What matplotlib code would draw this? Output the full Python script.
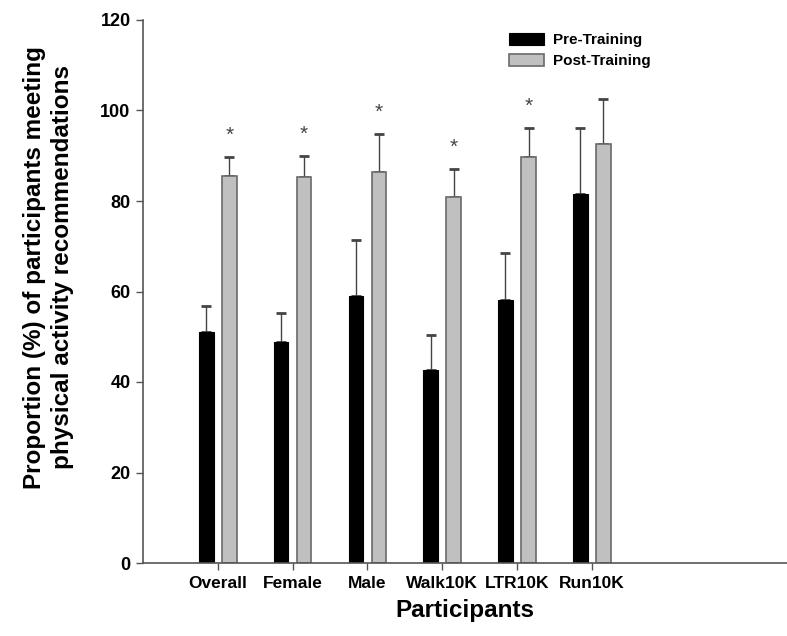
import numpy as np
import matplotlib
matplotlib.use("Agg")
import matplotlib.pyplot as plt

plt.rcParams["font.family"] = ["Liberation Sans", "DejaVu Sans"]
plt.rcParams["font.weight"] = "bold"

# ─────────────────────────────────────────────
# DATA
# ─────────────────────────────────────────────

groups = ["Overall", "Female", "Male", "Walk10K", "LTR10K", "Run10K"]
pre_training = [51.1, 48.9, 59.0, 42.7, 58.1, 81.5]
pre_err = [5.7, 6.4, 12.4, 7.7, 10.5, 14.7]
post_training = [85.5, 85.2, 86.3, 80.8, 89.7, 92.5]
post_err = [4.2, 4.7, 8.4, 6.2, 6.5, 10.0]
significant = [True, True, True, True, True, False]
y_ticks = [0, 20, 40, 60, 80, 100, 120]

# ─────────────────────────────────────────────
# PLOT
# ─────────────────────────────────────────────

fig = plt.figure(figsize=(7.87, 6.36), dpi=100)
ax = fig.add_axes([143 / 787, 1 - 563 / 636, 1 - 143 / 787, 543 / 636])

x = np.arange(len(groups))
offset = 0.154
width = 0.194
spine_col = "#555555"

ax.bar(x - offset, pre_training, width, color="black", edgecolor="black",
       linewidth=0.8, label="Pre-Training", zorder=2)
ax.bar(x + offset, post_training, width, color="#c0c0c0", edgecolor="#6a6a6a",
       linewidth=1.2, label="Post-Training", zorder=2)

err_kw = dict(fmt="none", ecolor="#444444", elinewidth=1.0, capsize=3.5,
              capthick=2.0, zorder=1)
ax.errorbar(x - offset, pre_training, yerr=[np.zeros(len(x)), pre_err], **err_kw)
ax.errorbar(x + offset, post_training, yerr=[np.zeros(len(x)), post_err], **err_kw)

# significance markers above post-training bars
for i, sig in enumerate(significant):
    if sig:
        ax.text(x[i] + offset, post_training[i] + post_err[i] + 4.8, "*",
                ha="center", va="center", fontsize=15, color="#444444",
                fontweight="normal")

ax.set_xlim(-1.0, 7.61)
ax.set_ylim(0, 120)
ax.set_yticks(y_ticks)
ax.set_xticks(x)
ax.set_xticklabels(groups, fontsize=12.5, fontweight="bold")
ax.tick_params(axis="y", labelsize=13, direction="out", length=5,
               width=1, color=spine_col, pad=4)
ax.tick_params(axis="x", direction="out", length=5, width=1,
               color=spine_col, pad=4)
for lab in ax.get_yticklabels():
    lab.set_fontweight("bold")

for side in ["top", "right"]:
    ax.spines[side].set_visible(False)
for side in ["left", "bottom"]:
    ax.spines[side].set_color(spine_col)
    ax.spines[side].set_linewidth(1.2)

ax.set_xlabel("Participants", fontsize=17.5, fontweight="bold", labelpad=6)
fig.text(0.062, 0.58,
         "Proportion (%) of participants meeting\nphysical activity recommendations",
         rotation=90, ha="center", va="center", fontsize=17.5,
         fontweight="bold", linespacing=1.3)

ax.legend(loc="upper left", bbox_to_anchor=(0.557, 0.99), frameon=False,
          fontsize=11, borderpad=0, handlelength=2.3, handleheight=0.8,
          labelspacing=0.45, handletextpad=0.55)

plt.savefig("out.png", dpi=100)
